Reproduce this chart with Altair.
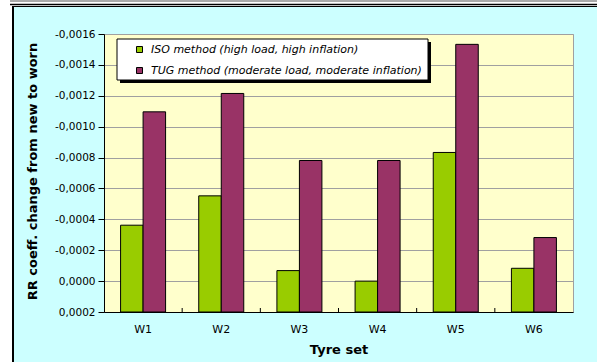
import altair as alt
import pandas as pd

# Rolling-resistance coefficient change (new -> worn) per tyre set
tyre_sets = ["W1", "W2", "W3", "W4", "W5", "W6"]
methods = [
    "ISO method (high load, high inflation)",
    "TUG method (moderate load, moderate inflation)",
]
iso_change = [-0.000362, -0.000552, -0.000068, 0.0, -0.000833, -0.000083]
tug_change = [-0.001096, -0.001215, -0.000781, -0.000781, -0.001533, -0.000282]
y_ticks = [-0.0016, -0.0014, -0.0012, -0.0010, -0.0008, -0.0006,
           -0.0004, -0.0002, 0.0, 0.0002]
bar_colors = ["#99CC00", "#993366"]

rows = []
for i, t in enumerate(tyre_sets):
    rows.append({"tyre": t, "method": methods[0], "change": iso_change[i]})
    rows.append({"tyre": t, "method": methods[1], "change": tug_change[i]})
df = pd.DataFrame(rows)

W, H = 469, 278
PAD_L, PAD_T, PAD_R, PAD_B = 104, 34, 24, 50
FONT = "DejaVu Sans"
one = pd.DataFrame({"k": [0]})

x_axis = alt.Axis(
    ticks=False, labelAngle=0, labelFontSize=11, labelPadding=11,
    labelColor="black", domainColor="black", grid=False,
    titleFontSize=13, titleFontWeight="bold", titleColor="black",
    titleY=41, titleBaseline="alphabetic",
)

bars = alt.Chart(df).mark_bar(stroke="black", strokeWidth=1).encode(
    x=alt.X("tyre:N", sort=tyre_sets, title="Tyre set",
            scale=alt.Scale(paddingInner=0, paddingOuter=0), axis=x_axis),
    xOffset=alt.XOffset("method:N", sort=methods,
                        scale=alt.Scale(paddingInner=0, paddingOuter=0.737)),
    y=alt.Y(
        "change:Q",
        title="RR coeff. change from new to worn",
        scale=alt.Scale(domain=[-0.0016, 0.0002], reverse=True, nice=False, zero=False),
        axis=alt.Axis(
            values=y_ticks,
            labelExpr="(datum.value < -1e-9 ? '-' : '') + replace(format(abs(datum.value), '.4f'), '.', ',')",
            tickSize=6, tickColor="black", domainColor="black",
            labelFontSize=10.5, labelPadding=3, labelColor="black",
            grid=True, gridColor="#A0A0A0", gridWidth=1,
            titleFontSize=13, titleFontWeight="bold", titleColor="black",
            titleX=-72, titleY=137, titleAngle=270,
            titleAlign="center", titleBaseline="middle",
        ),
    ),
    y2=alt.datum(0.0002),
    color=alt.Color(
        "method:N", sort=methods,
        scale=alt.Scale(domain=methods, range=bar_colors),
        legend=alt.Legend(
            title=None, orient="none", legendX=30, legendY=10, padding=0,
            symbolType="square", symbolSize=36, symbolStrokeColor="black",
            symbolStrokeWidth=1, symbolOpacity=1, labelOffset=6, rowPadding=9,
            labelLimit=400, labelFont=FONT, labelFontStyle="italic",
            labelFontSize=11, labelColor="black",
        ),
    ),
)

# small inward ticks between the category bands
cat_ticks = alt.Chart(pd.DataFrame({"tyre": tyre_sets[1:]})).mark_rule(
    color="black", strokeWidth=1
).encode(
    x=alt.X("tyre:N", sort=tyre_sets, bandPosition=0, title="Tyre set", axis=x_axis),
    y=alt.value(H - 4),
    y2=alt.value(H),
)


def rect(x1, x2, y1, y2, **style):
    return alt.Chart(one).mark_rect(**style).encode(
        x=alt.value(x1 - PAD_L), x2=alt.value(x2 - PAD_L),
        y=alt.value(y1 - PAD_T), y2=alt.value(y2 - PAD_T),
    )


def hline(x1, x2, y, color, width):
    return alt.Chart(one).mark_rule(color=color, strokeWidth=width).encode(
        x=alt.value(x1 - PAD_L), x2=alt.value(x2 - PAD_L), y=alt.value(y - PAD_T),
    )


def vline(x, y1, y2, color, width):
    return alt.Chart(one).mark_rule(color=color, strokeWidth=width).encode(
        x=alt.value(x - PAD_L), y=alt.value(y1 - PAD_T), y2=alt.value(y2 - PAD_T),
    )


frame = [
    rect(0, 597, 0, 6, fill="white"),
    rect(0, 12, 0, 362, fill="white"),
    hline(10, 597, 1, "#555555", 1),
    hline(10, 597, 4.5, "black", 1.5),
    hline(12, 597, 6.5, "black", 1),
    vline(13, 6, 362, "black", 2),
]

legend_box = [
    rect(120, 431, 42, 83, fill="black"),
    rect(117, 428, 39, 80, fill="white", stroke="black", strokeWidth=1),
]

chart = alt.layer(*frame, bars, cat_ticks, *legend_box).properties(
    width=W, height=H,
    padding={"left": PAD_L, "top": PAD_T, "right": PAD_R, "bottom": PAD_B},
    autosize=alt.AutoSizeParams(type="none"),
    background="#CCFFFF",
).configure(font=FONT).configure_view(fill="#FFFFCC", stroke="#A0A0A0", strokeWidth=1)

chart.save("out.html", embed_options={"renderer": "svg", "actions": False})
